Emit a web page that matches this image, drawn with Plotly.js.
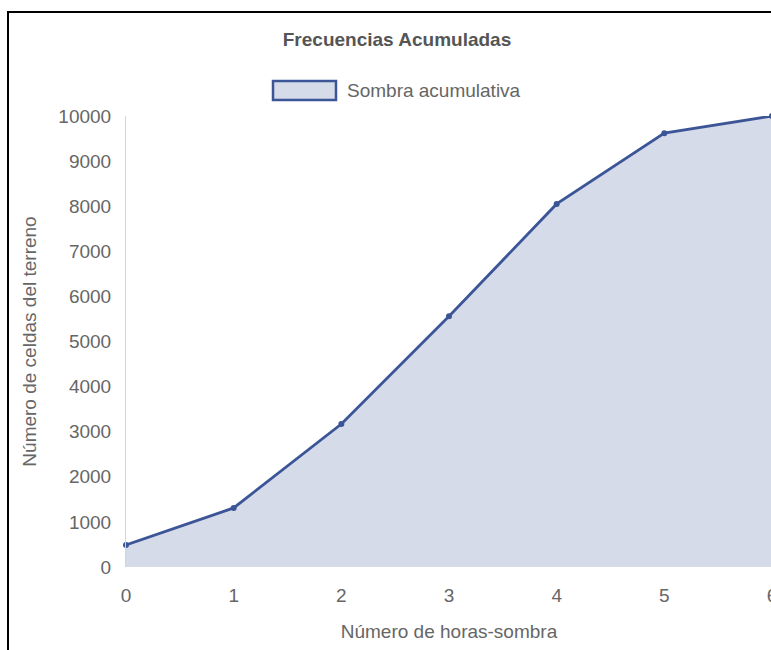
<!DOCTYPE html>
<html>
<head>
<meta charset="utf-8">
<script src="https://cdn.plot.ly/plotly-3.0.1.min.js"></script>
<style>
  html, body { margin: 0; padding: 0; overflow: hidden; background: #fff; width: 771px; height: 650px; }
  #chart { position: absolute; left: 0; top: 0; width: 800px; height: 650px; }
  #frame { position: absolute; left: 7px; top: 11px; width: 900px; height: 900px;
           border-left: 2px solid #000; border-top: 2px solid #000; pointer-events: none; }
</style>
</head>
<body>
<div id="chart"></div>
<div id="frame"></div>
<script>
// Data
const chartTitle = "Frecuencias Acumuladas";
const seriesName = "Sombra acumulativa";
const xTitle = "Número de horas-sombra";
const yTitle = "Número de celdas del terreno";
const horas = [0, 1, 2, 3, 4, 5, 6];
const celdasAcumuladas = [490, 1310, 3170, 5560, 8050, 9620, 10000];
const xTickVals = [0, 1, 2, 3, 4, 5, 6];
const yTickVals = [0, 1000, 2000, 3000, 4000, 5000, 6000, 7000, 8000, 9000, 10000];

const lineColor = "#3b5597";
const fillColor = "#d5dbe9";
const textColor = "#666666";
const fontFam = "Liberation Sans, Arial, sans-serif";
const fs = 19;

const trace = {
  x: horas,
  y: celdasAcumuladas,
  type: "scatter",
  mode: "lines+markers",
  name: seriesName,
  fill: "tozeroy",
  fillcolor: fillColor,
  line: { color: lineColor, width: 2.8 },
  marker: { color: lineColor, size: 6 },
  cliponaxis: false,
  showlegend: false,
  hoverinfo: "x+y"
};

const layout = {
  width: 800,
  height: 650,
  margin: { l: 126, r: 28, t: 116, b: 83 },
  paper_bgcolor: "#ffffff",
  plot_bgcolor: "#ffffff",
  font: { family: fontFam, size: fs, color: textColor },
  title: {
    text: "<b>" + chartTitle + "</b>",
    font: { family: fontFam, size: fs, color: "#555555" },
    x: 397 / 800, xref: "container", xanchor: "center",
    y: 1 - 39 / 650, yref: "container", yanchor: "middle"
  },
  xaxis: {
    range: [0, 6],
    tickvals: xTickVals,
    ticktext: xTickVals.map(String),
    showgrid: false, zeroline: false, showline: false,
    ticks: "", ticklabelstandoff: 15,
    tickfont: { family: fontFam, size: fs, color: textColor },
    title: { text: xTitle, font: { family: fontFam, size: fs, color: textColor }, standoff: 19 },
    fixedrange: true
  },
  yaxis: {
    range: [0, 10000],
    tickvals: yTickVals,
    ticktext: yTickVals.map(String),
    showgrid: false, zeroline: false,
    showline: true, linecolor: "#ccd5e8", linewidth: 1,
    ticks: "", ticklabelstandoff: 10,
    tickfont: { family: fontFam, size: fs, color: textColor },
    title: { text: yTitle, font: { family: fontFam, size: fs, color: textColor }, standoff: 16 },
    fixedrange: true
  },
  shapes: [{
    type: "rect", xref: "paper", yref: "paper",
    x0: (273 - 126) / 646, x1: (336 - 126) / 646,
    y0: (567 - 100) / 451, y1: (567 - 81) / 451,
    fillcolor: fillColor,
    line: { color: lineColor, width: 2.5 }
  }],
  annotations: [{
    text: seriesName,
    xref: "paper", yref: "paper",
    x: (345 - 126) / 646, y: (567 - 90) / 451,
    xanchor: "left", yanchor: "middle",
    showarrow: false,
    font: { family: fontFam, size: fs, color: textColor }
  }]
};

Plotly.newPlot("chart", [trace], layout, { displayModeBar: false, staticPlot: true });
</script>
</body>
</html>
